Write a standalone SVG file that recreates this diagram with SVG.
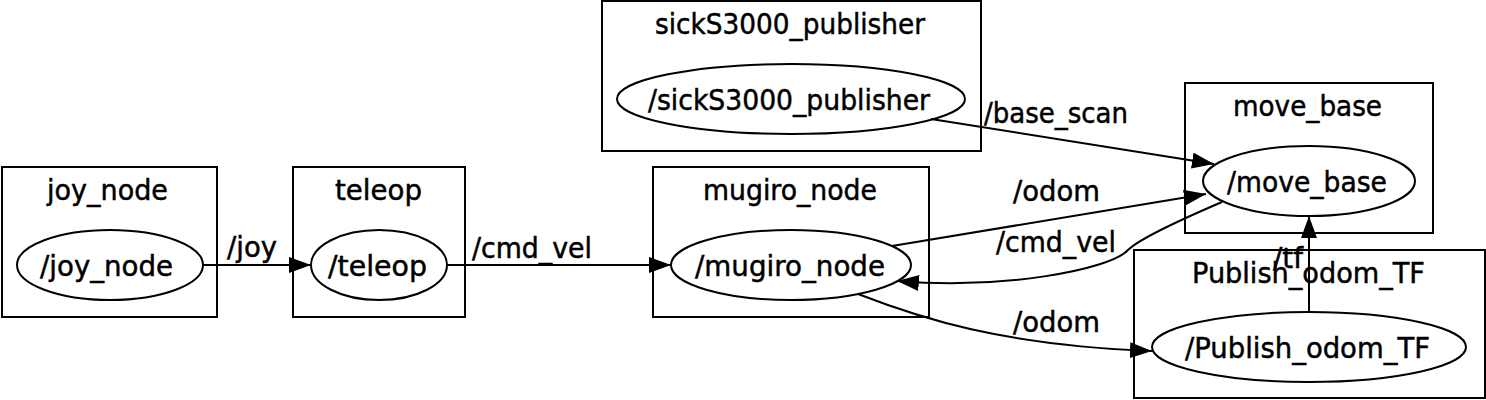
<svg xmlns="http://www.w3.org/2000/svg" width="1486" height="400" viewBox="0 0 1486 400">
<defs>
<style>
.box{fill:none;stroke:#000;stroke-width:2}
.ell{fill:none;stroke:#000;stroke-width:2}
.edge{fill:none;stroke:#000;stroke-width:2;marker-end:url(#ah)}
text{font-family:"DejaVu Sans","Liberation Sans",sans-serif;font-size:29px;fill:#000;stroke:#000;stroke-width:0.5}
</style>
<marker id="ah" markerUnits="userSpaceOnUse" markerWidth="24" markerHeight="18" refX="22" refY="8" orient="auto">
<path d="M0,0 L22,8 L0,16 z" fill="#000"/>
</marker>
</defs>
<rect width="1486" height="400" fill="#fff"/>
<g id="joy_node">
<rect class="box" x="2" y="167" width="215" height="150"/>
<text x="47" y="200" textLength="121" lengthAdjust="spacingAndGlyphs">joy_node</text>
<ellipse class="ell" cx="110" cy="265" rx="93" ry="35"/>
<text x="40" y="276" textLength="133" lengthAdjust="spacingAndGlyphs">/joy_node</text>
</g>
<g id="teleop">
<rect class="box" x="293" y="167" width="172" height="150"/>
<text x="335" y="200" textLength="87" lengthAdjust="spacingAndGlyphs">teleop</text>
<ellipse class="ell" cx="379" cy="265" rx="68" ry="35"/>
<text x="328" y="276" textLength="99" lengthAdjust="spacingAndGlyphs">/teleop</text>
</g>
<g id="mugiro_node">
<rect class="box" x="653" y="167" width="276" height="150"/>
<text x="703" y="200" textLength="174" lengthAdjust="spacingAndGlyphs">mugiro_node</text>
<ellipse class="ell" cx="791" cy="265" rx="120" ry="35"/>
<text x="695" y="276" textLength="190" lengthAdjust="spacingAndGlyphs">/mugiro_node</text>
</g>
<g id="sickS3000_publisher">
<rect class="box" x="602" y="1" width="379" height="150"/>
<text x="655" y="34" textLength="270" lengthAdjust="spacingAndGlyphs">sickS3000_publisher</text>
<ellipse class="ell" cx="791" cy="99" rx="174" ry="35"/>
<text x="648" y="110" textLength="282" lengthAdjust="spacingAndGlyphs">/sickS3000_publisher</text>
</g>
<g id="move_base">
<rect class="box" x="1185" y="83" width="248" height="150"/>
<text x="1233" y="116" textLength="149" lengthAdjust="spacingAndGlyphs">move_base</text>
<ellipse class="ell" cx="1309" cy="181" rx="106" ry="35"/>
<text x="1227" y="192" textLength="160" lengthAdjust="spacingAndGlyphs">/move_base</text>
</g>
<g id="Publish_odom_TF">
<rect class="box" x="1134" y="250" width="351" height="148"/>
<text x="1192" y="283" textLength="233" lengthAdjust="spacingAndGlyphs">Publish_odom_TF</text>
<ellipse class="ell" cx="1309" cy="347" rx="157" ry="35"/>
<text x="1185" y="358" textLength="245" lengthAdjust="spacingAndGlyphs">/Publish_odom_TF</text>
</g>
<g id="connectors">
<path class="edge" d="M203,265 L311,265"/>
<text x="227" y="257" textLength="50" lengthAdjust="spacingAndGlyphs">/joy</text>
<path class="edge" d="M447,265 L671,265"/>
<text x="472" y="258" textLength="120" lengthAdjust="spacingAndGlyphs">/cmd_vel</text>
<path class="edge" d="M931,119 L1214,164"/>
<text x="984" y="123" textLength="144" lengthAdjust="spacingAndGlyphs">/base_scan</text>
<path class="edge" d="M892,246 L1206,194"/>
<text x="1013" y="201" textLength="87" lengthAdjust="spacingAndGlyphs">/odom</text>
<path class="edge" d="M1222,202 C1180,220 1140,238 1128,250 C1110,270 1000,290 897,281"/>
<text x="996" y="252" textLength="120" lengthAdjust="spacingAndGlyphs">/cmd_vel</text>
<path class="edge" d="M858,294 C920,318 1000,345 1152,351"/>
<text x="1013" y="332" textLength="87" lengthAdjust="spacingAndGlyphs">/odom</text>
<path class="edge" d="M1309,312 L1309,216"/>
<text x="1273" y="268" textLength="30" lengthAdjust="spacingAndGlyphs">/tf</text>
</g>
</svg>
